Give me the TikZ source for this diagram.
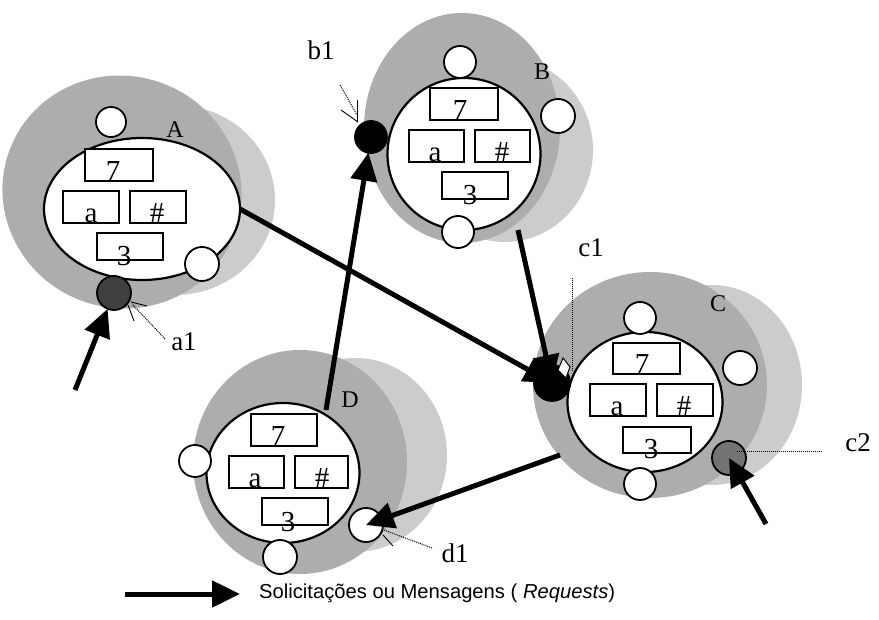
\documentclass[tikz,border=0pt]{standalone}
\usepackage{fontspec}
\setmainfont{Liberation Serif}
\newfontfamily\keyfont{Liberation Sans}
\usetikzlibrary{arrows.meta,shapes.geometric}

% one compartment of an object: outlined box plus its value set on the bottom edge
\newcommand\cellslot[8]{%
  \node[cell, minimum width={(#4-#2)*1pt}, minimum height={(#5-#3)*1pt}]
    (#1) at ({(#2+#4)/2},{(#3+#5)/2}) {};
  \node[celltext] (#1-t) at (#6,#7) {#8};
}

\begin{document}
\begin{tikzpicture}[x=1pt,y=-1pt,
  blobdark/.style={fill=black!32},
  bloblight/.style={fill=black!20},
  core/.style={ellipse, draw, line width=2.2pt, fill=white, inner sep=0pt, outer sep=0pt},
  port/.style={circle, draw, line width=1.8pt, fill=white, inner sep=0pt, outer sep=0pt, minimum size=#1},
  port/.default=32pt,
  cell/.style={rectangle, draw, line width=1.4pt, fill=white, inner sep=0pt},
  celltext/.style={anchor=base, inner sep=0pt, font=\fontsize{29}{31}\selectfont},
  objname/.style={inner sep=0pt, font=\fontsize{24}{26}\selectfont},
  callout/.style={inner sep=0pt, font=\fontsize{27}{29}\selectfont},
  pointer/.style={densely dotted, line width=1pt},
  tick/.style={line width=0.9pt},
  msg/.style={line width=5pt, -{Triangle[length=28pt,width=26pt]}},
]
\useasboundingbox (0,0) rectangle (879,620);
\fill[white] (0,0) rectangle (879,620);

% ---------- object bodies (shaded blobs) ----------
\fill[bloblight] (175,200) ellipse [x radius=100pt, y radius=95pt];
\fill[blobdark, rotate around={-20:(122,192)}] (122,192) ellipse [x radius=120pt, y radius=116pt];

\fill[bloblight] (505,150) ellipse [x radius=88pt, y radius=92pt];
\fill[blobdark]  (462,128) ellipse [x radius=98pt, y radius=115pt];

\fill[bloblight] (712,385) ellipse [x radius=90pt, y radius=100pt];
\fill[blobdark]  (650,385) ellipse [x radius=117pt, y radius=113pt];

\fill[bloblight] (355,455) ellipse [x radius=92pt, y radius=97pt];
\fill[blobdark]  (300,462) ellipse [x radius=107pt, y radius=112pt];

% ---------- object A ----------
\node[core, minimum width=196pt, minimum height=142pt] (A) at (142,209) {};
\cellslot{A7}{85}{149}{153}{181}{113}{181}{7}
\cellslot{Aa}{63}{191}{119}{223}{91}{223}{a}
\cellslot{Ah}{130}{191}{186}{223}{157}{223}{\#}
\cellslot{A3}{97}{233}{163}{260}{124}{266}{3}
\node[port=30pt] (a-top) at (111,122) {};
\node[port=34pt] (a-right) at (202,264) {};
\node[port=34pt, fill=black!75] (a1) at (114,293) {};
\node[objname] (A-name) at (175,130) {A};

% ---------- object B ----------
\node[core, minimum width=153pt, minimum height=152pt] (B) at (464,154) {};
\cellslot{B7}{430}{88}{498}{120}{460}{120}{7}
\cellslot{Ba}{409}{130}{464}{162}{435}{162}{a}
\cellslot{Bh}{475}{130}{530}{162}{502}{162}{\#}
\cellslot{B3}{442}{172}{508}{199}{470}{205}{3}
\node[port] (b-top) at (460,62) {};
\node[port=34pt] (b-right) at (558,116) {};
\node[port] (b-bottom) at (458,232) {};
\node[port, fill=black] (b1) at (371,137) {};
\node[objname] (B-name) at (542,72) {B};

% ---------- object C ----------
\node[core, minimum width=155pt, minimum height=140pt] (C) at (645,402) {};
\cellslot{C7}{613}{343}{680}{374}{642}{374}{7}
\cellslot{Ca}{590}{384}{646}{416}{617}{416}{a}
\cellslot{Ch}{657}{384}{713}{416}{684}{416}{\#}
\cellslot{C3}{623}{427}{691}{453}{651}{459}{3}
\node[port] (c-top) at (640,318) {};
\node[port=34pt] (c-right) at (740,368) {};
\node[port] (c-bottom) at (640,484) {};
\node[port=36pt, fill=black] (c1) at (552,383) {};
\node[port=34pt, fill=black!55] (c2) at (729,458) {};
\node[objname] (C-name) at (718,304) {C};

% ---------- object D ----------
\node[core, minimum width=153pt, minimum height=140pt] (D) at (283,473) {};
\cellslot{D7}{251}{414}{317}{446}{278}{446}{7}
\cellslot{Da}{229}{456}{284}{488}{255}{488}{a}
\cellslot{Dh}{295}{456}{348}{488}{322}{488}{\#}
\cellslot{D3}{262}{498}{328}{525}{288}{531}{3}
\node[port] (d-left) at (195,461) {};
\node[port=34pt] (d-bottom) at (280,557) {};
\node[port=34pt] (d1) at (366,525) {};
\node[objname] (D-name) at (350,400) {D};

% ---------- messages between objects ----------
\coordinate (b-out) at (518,230);
\coordinate (d-out) at (326,410);
\coordinate (c-out) at (560,455);
\coordinate (a-in) at (75,390);
\coordinate (c-in) at (766,524);

\draw[msg] (A.east) -- (c1.center);
\draw[msg] (b-out) -- (c1.center);
\draw[msg] (d-out) -- (b1);
\draw[msg] (c-out) -- (d1.center);
\draw[msg] (a-in) -- (a1);
\draw[msg] (c-in) -- (c2.center);

% ---------- port call-outs ----------
\node[callout] (a1-label) at (184,342) {a1};
\coordinate (a1-tip) at (132,304);
\draw[pointer] (a1-label.west) ++(-6,-3) -- (a1-tip);
\draw[tick] (131,302) -- (147,306);
\draw[tick] (128,305) -- (134,321);

\node[callout] (b1-label) at (321,50) {b1};
\coordinate (b1-tip) at (357,115);
\draw[pointer] (340,85) -- (b1-tip);
\draw[tick] (341,110) -- (358,122);
\draw[tick] (357,100) -- (357,122);

\node[callout] (c1-label) at (591,248) {c1};
\coordinate (c1-top) at (572,278);
\coordinate (c1-tip) at (572,371);
\draw[pointer] (c1-top) -- (c1-tip);
\draw[line width=1pt, fill=white] (563,358) -- (570,367) -- (566,378) -- (558,370) -- cycle;

\node[callout] (c2-label) at (858,443) {c2};
\coordinate (c2-end) at (823,452);
\draw[pointer] (c2.center) ++(8,-6) -- (c2-end);

\node[callout] (d1-label) at (455,553) {d1};
\coordinate (d1-tip) at (384,530);
\draw[pointer] (432,548) -- (d1-tip);
\draw[tick] (383,535) -- (393,546);

% ---------- key ----------
\coordinate (key-tail) at (125,594);
\coordinate (key-head) at (240,594);
\draw[msg] (key-tail) -- (key-head);
\node[anchor=west, inner sep=0pt, font=\keyfont\fontsize{20.2}{23}\selectfont] (key-text) at (259,593)
  {Solicitações ou Mensagens ( \textit{Requests})};
\end{tikzpicture}
\end{document}
